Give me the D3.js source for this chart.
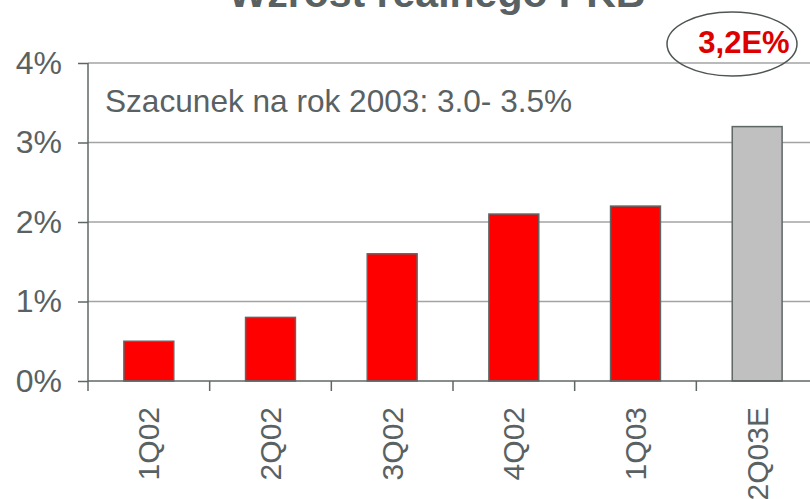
<!DOCTYPE html>
<html>
<head>
<meta charset="utf-8">
<script src="https://cdn.jsdelivr.net/npm/d3@7"></script>
<style>
  body { margin: 0; background: #fff; }
  svg { display: block; font-family: Arial, "Liberation Sans", sans-serif; }
</style>
</head>
<body>
<div id="chart"></div>
<script>
// data
const quarters = ['1Q02', '2Q02', '3Q02', '4Q02', '1Q03', '2Q03E'];
const growth = [0.5, 0.8, 1.6, 2.1, 2.2, 3.2];
const estimated = [false, false, false, false, false, true];
const yTicks = [0, 1, 2, 3, 4];
const title = 'Wzrost realnego PKB';
const note = 'Szacunek na rok 2003: 3.0- 3.5%';
const badge = '3,2E%';

const width = 810, height = 499;
const textColor = '#596163';
const axisColor = '#5f6666';

const svg = d3.select('#chart')
    .append('svg')
    .attr('width', width)
    .attr('height', height);

// scales
const xScale = d3.scaleBand()
    .domain(quarters)
    .range([88, 818])
    .paddingInner(0.59)
    .paddingOuter(0.295);

const yScale = d3.scaleLinear()
    .domain([0, 4])
    .range([381, 63]);

// gridlines
svg.append('g')
    .selectAll('line')
    .data(yTicks.slice(1))
    .join('line')
    .attr('x1', 88)
    .attr('x2', width)
    .attr('y1', d => yScale(d))
    .attr('y2', d => yScale(d))
    .attr('stroke', '#a3a3a3')
    .attr('stroke-width', 1.5);

// y axis
const yAxis = d3.axisLeft(yScale)
    .tickValues(yTicks)
    .tickFormat(d => d + '%')
    .tickSize(10)
    .tickPadding(16);

const yG = svg.append('g')
    .attr('transform', 'translate(88,0)')
    .call(yAxis);
yG.select('.domain').remove();
yG.selectAll('line').attr('stroke', axisColor).attr('stroke-width', 1.5);
yG.selectAll('text')
    .attr('fill', textColor)
    .style('font-size', '32px')
    .attr('font-family', 'Arial, "Liberation Sans", sans-serif');

svg.append('line')
    .attr('x1', 88).attr('x2', 88)
    .attr('y1', yScale(4)).attr('y2', 391)
    .attr('stroke', axisColor)
    .attr('stroke-width', 1.5);

// bars
svg.append('g')
    .selectAll('rect')
    .data(quarters)
    .join('rect')
    .attr('x', d => xScale(d))
    .attr('width', xScale.bandwidth())
    .attr('y', (d, i) => yScale(growth[i]))
    .attr('height', (d, i) => yScale(0) - yScale(growth[i]))
    .attr('fill', (d, i) => estimated[i] ? '#c0c0c0' : '#ff0000')
    .attr('stroke', axisColor)
    .attr('stroke-width', 1.5);

// x axis
svg.append('line')
    .attr('x1', 88).attr('x2', width)
    .attr('y1', yScale(0)).attr('y2', yScale(0))
    .attr('stroke', axisColor)
    .attr('stroke-width', 1.5);

svg.append('g')
    .selectAll('line')
    .data(quarters.slice(1))
    .join('line')
    .attr('x1', d => xScale(d) - xScale.step() * xScale.paddingInner() / 2)
    .attr('x2', d => xScale(d) - xScale.step() * xScale.paddingInner() / 2)
    .attr('y1', yScale(0))
    .attr('y2', yScale(0) + 10)
    .attr('stroke', axisColor)
    .attr('stroke-width', 1.5);

svg.append('g')
    .selectAll('text')
    .data(quarters)
    .join('text')
    .attr('transform', d => 'translate(' + (xScale(d) + xScale.bandwidth() / 2) + ',407) rotate(-90)')
    .attr('text-anchor', 'end')
    .attr('dy', '0.35em')
    .attr('fill', textColor)
    .style('font-size', '30px')
    .text(d => d);

// title, cut off at top like the slide
svg.append('text')
    .attr('x', 437)
    .attr('y', 7)
    .attr('text-anchor', 'middle')
    .attr('fill', textColor)
    .style('font-size', '41px')
    .style('font-weight', 'bold')
    .text(title);

// note
svg.append('text')
    .attr('x', 105)
    .attr('y', 112)
    .attr('fill', textColor)
    .style('font-size', '31.6px')
    .text(note);

// badge
svg.append('ellipse')
    .attr('cx', 732)
    .attr('cy', 44)
    .attr('rx', 65)
    .attr('ry', 32)
    .attr('fill', 'none')
    .attr('stroke', '#4f5555')
    .attr('stroke-width', 1.5);

svg.append('text')
    .attr('x', 744)
    .attr('y', 53)
    .attr('text-anchor', 'middle')
    .attr('fill', '#dd0000')
    .style('font-size', '31px')
    .style('font-weight', 'bold')
    .text(badge);
</script>
</body>
</html>
